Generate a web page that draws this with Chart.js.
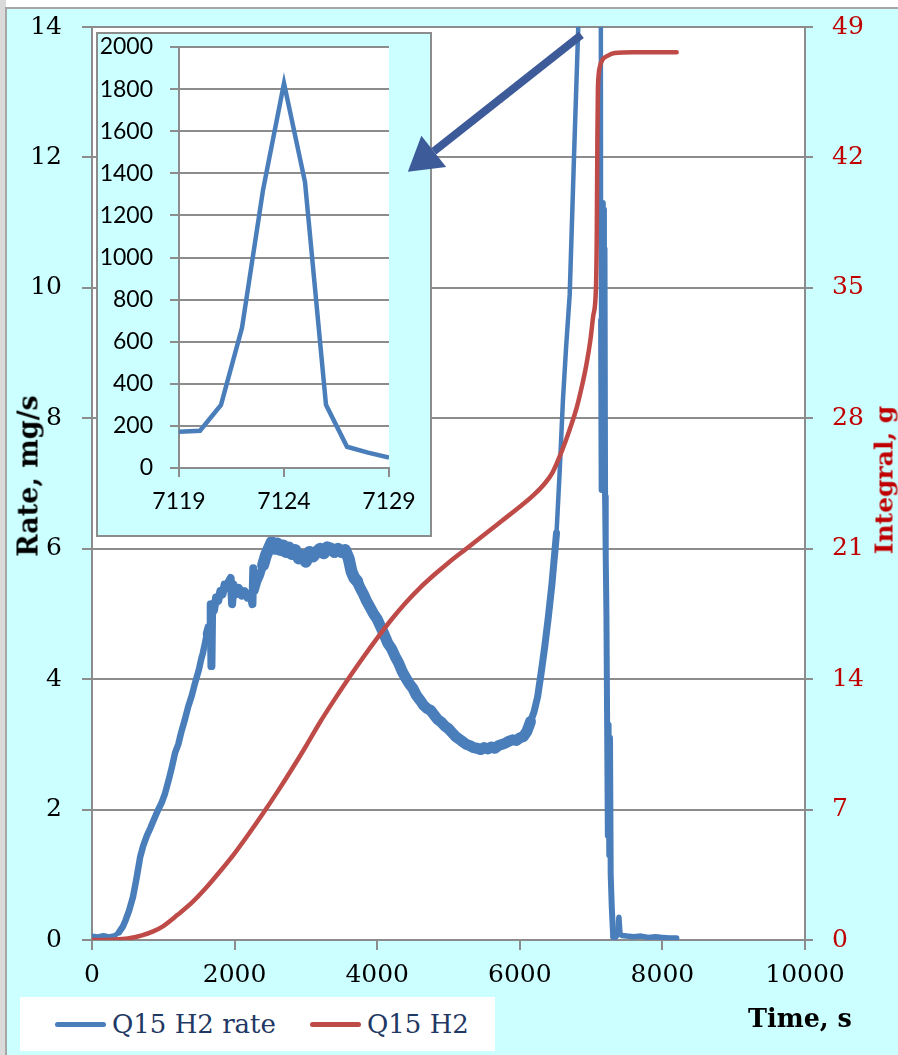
<!DOCTYPE html>
<html><head><meta charset="utf-8">
<script src="https://cdn.jsdelivr.net/npm/chart.js@4.4.1/dist/chart.umd.min.js"></script>
<style>
html,body{margin:0;padding:0;width:898px;height:1055px;overflow:hidden;background:#fff;}
#strip{position:absolute;left:0;top:0;width:6px;height:1055px;background:#DADADA;}
#bg{position:absolute;left:5px;top:7px;width:893px;height:1048px;background:#CCFFFF;border-left:2px solid #A6A6A6;border-top:2px solid #A6A6A6;box-sizing:border-box;}
#main{position:absolute;left:0;top:0;}
#insetBox{position:absolute;left:96px;top:32px;width:336px;height:505px;box-sizing:border-box;border:2px solid #8C8C8C;background:#CCFFFF;}
#inset{position:absolute;left:0;top:0;}
#overlay{position:absolute;left:0;top:0;pointer-events:none;}
.t{position:absolute;white-space:nowrap;font-family:"DejaVu Serif",serif;}
#ytitle{left:28px;top:476px;transform:translate(-50%,-50%) rotate(-90deg);font-weight:bold;font-size:27px;color:#000;}
#y2title{left:884px;top:480px;transform:translate(-50%,-50%) rotate(-90deg);font-weight:bold;font-size:25px;color:#C00000;}
#xtitle{left:748px;top:1003px;font-weight:bold;font-size:25.5px;color:#000;}
#legend{position:absolute;left:20px;top:997px;width:475px;height:54px;background:#fff;}
#legend .ln{position:absolute;width:51px;height:5px;top:25px;border-radius:3px;}
#legend .lt{position:absolute;top:0;line-height:54px;font-family:"DejaVu Serif",serif;font-size:26px;color:#1F3864;white-space:nowrap;}
</style></head>
<body>
<div id="strip"></div>
<div id="bg"></div>
<canvas id="main" width="898" height="1055"></canvas>
<div id="insetBox"><canvas id="inset" width="332" height="501"></canvas></div>
<canvas id="overlay" width="898" height="1055"></canvas>
<div class="t" id="ytitle">Rate, mg/s</div>
<div class="t" id="y2title">Integral, g</div>
<div class="t" id="xtitle">Time, s</div>
<div id="legend">
  <div class="ln" style="left:35px;background:#4A7EBB"></div>
  <div class="lt" style="left:92px">Q15 H2 rate</div>
  <div class="ln" style="left:290px;background:#BE4B48"></div>
  <div class="lt" style="left:347px">Q15 H2</div>
</div>
<script>
// ---------- data ----------
const rateTime = [0,80,160,240,320,380,430,470,520,575,625,675,720,770,820,870,925,975,1025,1075,1120,1165,1210,1255,1300,1350,1400,1445,1500,1530,1555,1585,1610,1635,1655,1665,1675,1685,1710,1740,1770,1800,1830,1860,1890,1920,1945,1965,1985,2020,2060,2100,2140,2180,2220,2250,2262,2280,2320,2360,2400,2440,2480,2520,2560,2600,2640,2680,2720,2760,2800,2850,2900,2950,3000,3050,3100,3150,3200,3250,3300,3350,3400,3450,3500,3550,3600,3640,3680,3720,3760,3800,3850,3900,3950,4000,4050,4100,4150,4200,4250,4300,4350,4400,4450,4500,4550,4600,4650,4700,4750,4800,4850,4900,4950,5000,5050,5100,5150,5200,5250,5300,5350,5400,5450,5500,5550,5600,5650,5700,5750,5800,5850,5900,5950,6000,6050,6100,6150,6200,6250,6300,6350,6400,6450,6515,6560,6605,6650,6700,6760,6820,6880,6950,7020,7080,7119,7120,7121,7122,7123,7124,7125,7126,7127,7128,7129,7133,7140,7148,7156,7164,7172,7180,7188,7196,7205,7215,7225,7235,7245,7255,7265,7275,7290,7310,7340,7370,7390,7405,7430,7500,7600,7700,7800,7900,8000,8100,8200];
const rateValue = [0.06,0.05,0.07,0.05,0.07,0.12,0.2,0.3,0.45,0.66,0.95,1.27,1.45,1.6,1.72,1.85,1.99,2.1,2.25,2.45,2.65,2.87,3.0,3.2,3.37,3.58,3.75,3.94,4.15,4.3,4.4,4.55,4.7,4.8,4.6,5.15,4.2,5.1,5.05,5.25,5.2,5.35,5.3,5.45,5.4,5.5,5.55,5.15,5.45,5.3,5.4,5.28,5.35,5.25,5.3,5.15,5.7,5.35,5.5,5.6,5.75,5.9,6.0,6.1,6.0,6.08,5.98,6.05,5.95,6.02,5.92,5.98,5.85,5.9,5.8,5.95,5.88,5.95,6.0,5.93,6.02,6.0,5.95,6.0,5.95,5.98,5.85,5.65,5.55,5.5,5.4,5.32,5.2,5.1,5.0,4.92,4.8,4.68,4.55,4.47,4.35,4.25,4.12,4.02,3.93,3.86,3.75,3.68,3.6,3.55,3.52,3.45,3.38,3.34,3.28,3.24,3.18,3.12,3.08,3.04,3.0,2.98,2.95,2.94,2.92,2.95,2.93,2.96,2.94,2.98,3.0,3.02,3.05,3.07,3.06,3.1,3.12,3.2,3.35,3.5,3.73,4.1,4.5,4.95,5.45,6.24,7.2,8.28,9.1,9.9,12.0,14.0,16.5,20,30,60,172,177,300,666,1320,1828,1358,300,101,73,49,25,9.5,6.9,11.3,7.0,11.2,7.3,10.6,6.8,5.9,5.0,3.3,1.6,3.3,1.3,3.1,1.0,0.5,0.05,0.04,0.08,0.35,0.1,0.07,0.06,0.05,0.06,0.04,0.05,0.04,0.03,0.03];

const intTime = [0,300,500,700,850,1000,1200,1400,1600,1800,2000,2200,2400,2600,2800,3000,3200,3400,3600,3800,4000,4200,4400,4600,4800,5000,5250,5500,5750,6000,6200,6350,6460,6585,6700,6800,6870,6935,6990,7030,7068,7080,7088,7095,7105,7125,7160,7230,7330,7600,8200];
const intValue = [0,0.02,0.08,0.25,0.45,0.75,1.35,2.0,2.8,3.7,4.65,5.7,6.8,7.95,9.15,10.4,11.7,12.9,14.05,15.15,16.2,17.2,18.1,18.9,19.6,20.25,21.0,21.75,22.5,23.25,23.9,24.5,25.1,26.2,27.4,28.6,29.7,30.9,32.2,33.5,35.0,38.0,43.0,45.5,46.4,46.9,47.25,47.45,47.6,47.65,47.65];

const insetTime = [7119,7120,7121,7122,7123,7124,7125,7126,7127,7128,7129];
const insetValue = [172,177,300,666,1320,1828,1358,300,101,73,49];

const xTicksMain = {min:0, max:10000, step:2000};
const yTicksRate = {min:0, max:14, step:2};
const yTicksInt = {min:0, max:49, step:7};
const xTicksInset = {min:7119, max:7129, step:5};
const yTicksInset = {min:0, max:2000, step:200};

// arrow annotation in data units (tail -> tip)
const arrowFrom = [6863, 13.88];
const arrowTo = [4430, 11.78];

// ---------- styles ----------
const BLUE = '#4A7EBB', RED = '#BE4B48', GRID = '#8C8C8C';
const serif = {family:'"DejaVu Serif", serif', size:25};
const sans = {family:'Lato, "Liberation Sans", sans-serif', size:23};
function blueWidth(t){
  if (t < 350) return 5;
  if (t < 1600) return 6.5;
  if (t < 2400) return 8;
  if (t < 3700) return 12;
  if (t < 6150) return 11;
  if (t < 6500) return 7;
  if (t < 7135) return 4.5;
  if (t < 7300) return 6;
  return 5.5;
}
const whitePlot = {
  id:'whitePlot',
  beforeDraw(chart){
    const a = chart.chartArea, c = chart.ctx;
    c.save(); c.fillStyle = '#fff'; c.fillRect(a.left, a.top, a.right-a.left, a.bottom-a.top); c.restore();
  }
};
const arrowPlugin = {
  id:'arrow',
  afterDraw(chart){
    const o = document.getElementById('overlay').getContext('2d');
    const xs = chart.scales.x, ys = chart.scales.y;
    const x1 = xs.getPixelForValue(arrowFrom[0]), y1 = ys.getPixelForValue(arrowFrom[1]);
    const x2 = xs.getPixelForValue(arrowTo[0]), y2 = ys.getPixelForValue(arrowTo[1]);
    const ang = Math.atan2(y2-y1, x2-x1);
    const headLen = 33, headHalf = 20;
    const bx = x2 - headLen*Math.cos(ang), by = y2 - headLen*Math.sin(ang);
    o.clearRect(0,0,898,1055);
    o.strokeStyle = '#3D5A99'; o.fillStyle = '#3D5A99';
    o.lineWidth = 8; o.lineCap = 'butt';
    o.beginPath(); o.moveTo(x1,y1); o.lineTo(bx,by); o.stroke();
    o.beginPath();
    o.moveTo(x2,y2);
    o.lineTo(bx + headHalf*Math.sin(ang), by - headHalf*Math.cos(ang));
    o.lineTo(bx - headHalf*Math.sin(ang), by + headHalf*Math.cos(ang));
    o.closePath(); o.fill();
  }
};
const lbl = v => String(v);
function fixV(w){ return s => { s.width = w; s.paddingTop = 0; s.paddingBottom = 0; }; }
function fixH(h){ return s => { s.height = h; s.paddingLeft = 0; s.paddingRight = 0; }; }

new Chart(document.getElementById('main'), {
  type:'line',
  data:{datasets:[
    {label:'Q15 H2 rate', data: rateTime.map((t,i)=>({x:t, y:rateValue[i]})), yAxisID:'y',
     borderColor:BLUE, borderWidth:5, pointRadius:0, borderJoinStyle:'round', borderCapStyle:'round',
     tension:0, order:2, segment:{borderWidth: c => blueWidth(c.p0.parsed.x)}},
    {label:'Q15 H2', data: intTime.map((t,i)=>({x:t, y:intValue[i]})), yAxisID:'y2',
     borderColor:RED, borderWidth:4.5, pointRadius:0, borderCapStyle:'round', borderJoinStyle:'round',
     cubicInterpolationMode:'monotone', order:1}
  ]},
  options:{
    responsive:false, animation:false, devicePixelRatio:1,
    layout:{padding:{top:27, left:0, right:0, bottom:0}},
    plugins:{legend:{display:false}, tooltip:{enabled:false}},
    scales:{
      x:{type:'linear', position:'bottom', min:xTicksMain.min, max:xTicksMain.max,
         ticks:{stepSize:xTicksMain.step, font:serif, color:'#000', padding:10, maxRotation:0, autoSkip:false, callback:lbl},
         grid:{drawOnChartArea:false, drawTicks:true, tickLength:10, color:GRID, lineWidth:2},
         border:{color:GRID, width:2},
         afterFit: fixH(115)},
      y:{type:'linear', position:'left', min:yTicksRate.min, max:yTicksRate.max,
         ticks:{stepSize:yTicksRate.step, font:serif, color:'#000', padding:20, callback:lbl},
         grid:{color:GRID, lineWidth:2, tickLength:10},
         border:{color:GRID, width:2},
         afterFit: fixV(92)},
      y2:{type:'linear', position:'right', min:yTicksInt.min, max:yTicksInt.max,
         ticks:{stepSize:yTicksInt.step, font:serif, color:'#C00000', padding:19, callback:lbl},
         grid:{drawOnChartArea:false, color:GRID, lineWidth:2, tickLength:8},
         border:{color:GRID, width:2},
         afterFit: fixV(93)}
    }
  },
  plugins:[whitePlot, arrowPlugin]
});

new Chart(document.getElementById('inset'), {
  type:'line',
  data:{datasets:[
    {label:'inset', data: insetTime.map((t,i)=>({x:t, y:insetValue[i]})),
     borderColor:BLUE, borderWidth:4.5, pointRadius:0, tension:0, borderJoinStyle:'miter'}
  ]},
  options:{
    responsive:false, animation:false, devicePixelRatio:1,
    layout:{padding:{top:13, left:0, right:41, bottom:0}},
    plugins:{legend:{display:false}, tooltip:{enabled:false}},
    scales:{
      x:{type:'linear', min:xTicksInset.min, max:xTicksInset.max,
         ticks:{stepSize:xTicksInset.step, font:sans, color:'#000', padding:11, maxRotation:0, autoSkip:false, callback:lbl},
         grid:{drawOnChartArea:false, tickLength:9, color:GRID, lineWidth:2},
         border:{color:GRID, width:2},
         afterFit: fixH(67)},
      y:{type:'linear', min:yTicksInset.min, max:yTicksInset.max,
         ticks:{stepSize:yTicksInset.step, font:sans, color:'#000', padding:17, autoSkip:false, callback:lbl},
         grid:{color:GRID, lineWidth:2, tickLength:9},
         border:{color:GRID, width:2},
         afterFit: fixV(81)}
    }
  },
  plugins:[whitePlot]
});
</script>
</body></html>
